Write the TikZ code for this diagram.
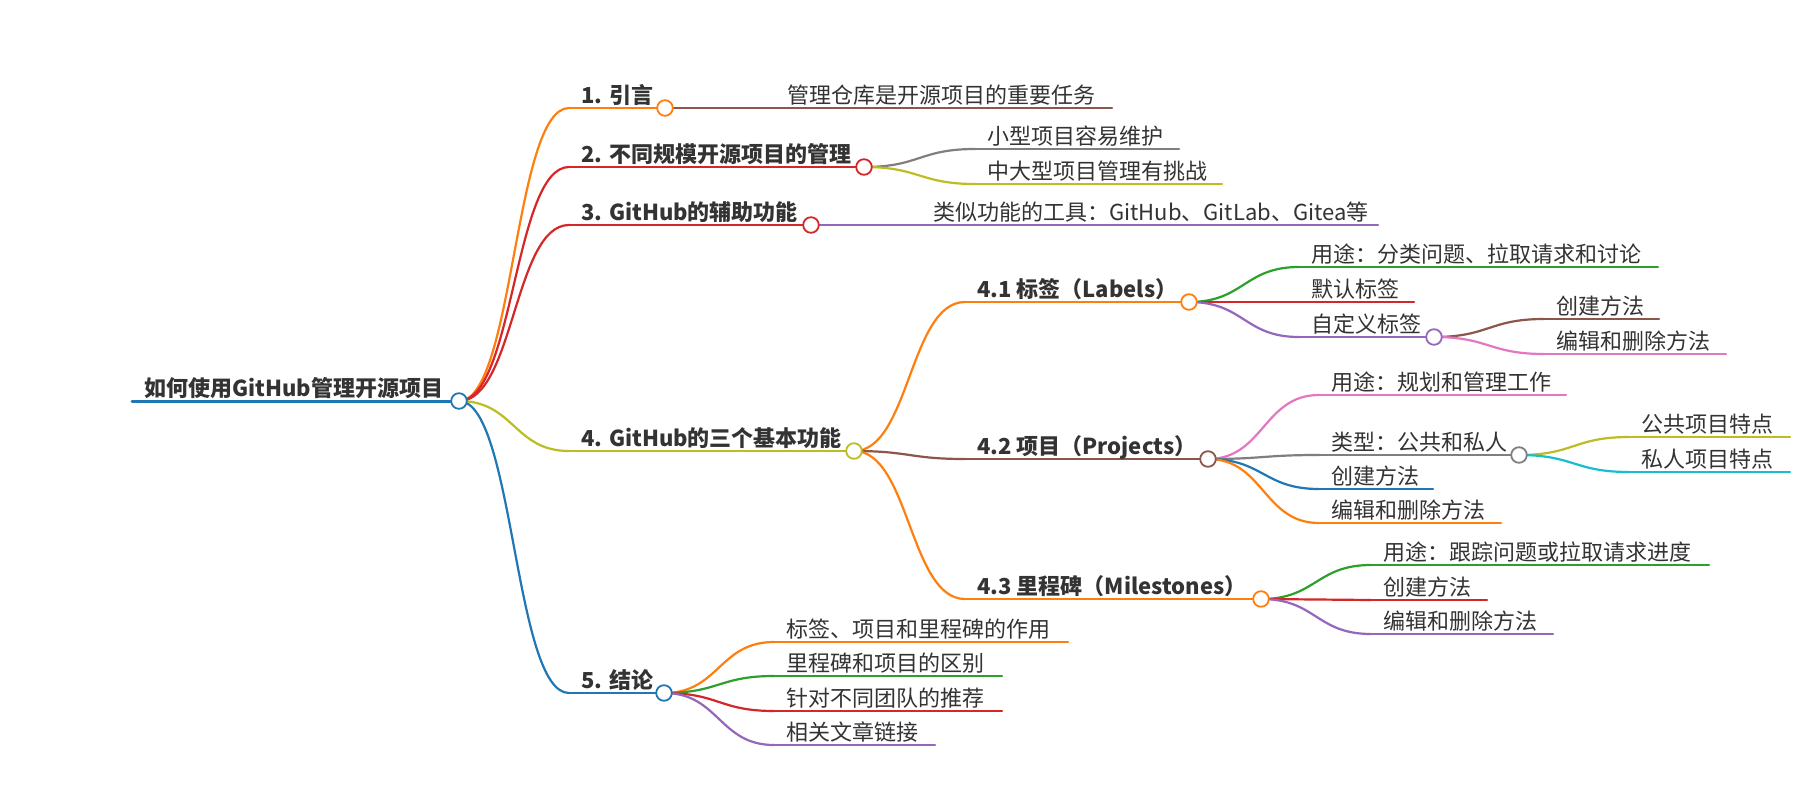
\documentclass[tikz,border=0pt]{standalone}
\usepackage{fontspec}
\setmainfont{Noto Sans CJK SC}
\usetikzlibrary{calc}
\definecolor{cblue}{HTML}{1F77B4}
\definecolor{corange}{HTML}{FF7F0E}
\definecolor{cgreen}{HTML}{2CA02C}
\definecolor{cred}{HTML}{D62728}
\definecolor{cpurple}{HTML}{9467BD}
\definecolor{cbrown}{HTML}{8C564B}
\definecolor{cpink}{HTML}{E377C2}
\definecolor{cgray}{HTML}{7F7F7F}
\definecolor{colive}{HTML}{BCBD22}
\definecolor{ccyan}{HTML}{17BECF}
\definecolor{txt}{HTML}{333333}
\tikzset{
  lbl/.style={anchor=base west, inner sep=0pt, text=txt, font=\fontsize{22}{26}\selectfont},
  blbl/.style={lbl, font=\fontsize{22}{26}\selectfont\bfseries},
  edge/.style={line width=2.2pt, line cap=round},
  dot/.style={circle, fill=white, line width=1.8pt, minimum size=15.6pt, inner sep=0pt},
}
% name, x, y, end x, colour, label style, text
\newcommand\mmitem[7]{%
  \coordinate (#1s) at (#2,#3);
  \coordinate (#1e) at (#4,#3);
  \draw[edge, draw=#5] (#1s) -- (#1e);
  \node[#6] (#1) at ({#2+12},{#3-5}) {#7};
}
% parent, child, colour
\newcommand\mmlink[3]{%
  \draw[edge, draw=#3] (#1e) .. controls ($(#1e)!0.5!(#2s|-#1e)$) and ($(#2s)!0.5!(#1e|-#2s)$) .. (#2s);
}
\begin{document}
\begin{tikzpicture}[x=1pt,y=-1pt]
\useasboundingbox[fill=white] (0,0) rectangle (1800,800);

% nodes
\coordinate (roots) at (132,401);
\coordinate (roote) at (459,401);
\draw[edge, line width=3pt, draw=cblue] (roots) -- (roote);
\node[blbl] (root) at (144,396) {如何使用GitHub管理开源项目};
\mmitem{na}{569}{108}{665}{corange}{blbl}{1. 引言}
\mmitem{nb}{569}{167}{864}{cred}{blbl}{2. 不同规模开源项目的管理}
\mmitem{nc}{569}{225}{811}{cred}{blbl}{3. GitHub的辅助功能}
\mmitem{nd}{569}{451}{854}{colive}{blbl}{4. GitHub的三个基本功能}
\mmitem{ne}{569}{693}{664}{cblue}{blbl}{5. 结论}
\mmitem{naa}{775}{108}{1112}{cbrown}{lbl}{管理仓库是开源项目的重要任务}
\mmitem{nba}{975}{149}{1179}{cgray}{lbl}{小型项目容易维护}
\mmitem{nbb}{975}{184}{1222}{colive}{lbl}{中大型项目管理有挑战}
\mmitem{nca}{921}{225}{1378}{cpurple}{lbl}{类似功能的工具：GitHub、GitLab、Gitea等}
\mmitem{nda}{965}{302}{1189}{corange}{blbl}{4.1 标签（Labels）}
\mmitem{ndb}{965}{459}{1208}{cbrown}{blbl}{4.2 项目（Projects）}
\mmitem{ndc}{965}{599}{1261}{corange}{blbl}{4.3 里程碑（Milestones）}
\mmitem{nea}{774}{642}{1068}{corange}{lbl}{标签、项目和里程碑的作用}
\mmitem{neb}{774}{676}{1002}{cgreen}{lbl}{里程碑和项目的区别}
\mmitem{nec}{774}{711}{1002}{cred}{lbl}{针对不同团队的推荐}
\mmitem{ned}{774}{745}{935}{cpurple}{lbl}{相关文章链接}
\mmitem{ndaa}{1299}{267}{1658}{cgreen}{lbl}{用途：分类问题、拉取请求和讨论}
\mmitem{ndab}{1299}{302}{1414}{cred}{lbl}{默认标签}
\mmitem{ndac}{1299}{337}{1434}{cpurple}{lbl}{自定义标签}
\mmitem{ndaca}{1544}{319}{1659}{cbrown}{lbl}{创建方法}
\mmitem{ndacb}{1544}{354}{1726}{cpink}{lbl}{编辑和删除方法}
\mmitem{ndba}{1319}{395}{1566}{cpink}{lbl}{用途：规划和管理工作}
\mmitem{ndbb}{1319}{455}{1519}{cgray}{lbl}{类型：公共和私人}
\mmitem{ndbba}{1629}{437}{1790}{colive}{lbl}{公共项目特点}
\mmitem{ndbbb}{1629}{472}{1790}{ccyan}{lbl}{私人项目特点}
\mmitem{ndbc}{1319}{489}{1433}{cblue}{lbl}{创建方法}
\mmitem{ndbd}{1319}{523}{1501}{corange}{lbl}{编辑和删除方法}
\mmitem{ndca}{1371}{565}{1709}{cgreen}{lbl}{用途：跟踪问题或拉取请求进度}
\mmitem{ndcb}{1371}{600}{1487}{cred}{lbl}{创建方法}
\mmitem{ndcc}{1371}{634}{1553}{cpurple}{lbl}{编辑和删除方法}

% links
\mmlink{root}{na}{corange}
\mmlink{root}{nb}{cred}
\mmlink{root}{nc}{cred}
\mmlink{root}{nd}{colive}
\mmlink{root}{ne}{cblue}
\mmlink{na}{naa}{cbrown}
\mmlink{nb}{nba}{cgray}
\mmlink{nb}{nbb}{colive}
\mmlink{nc}{nca}{cpurple}
\mmlink{nd}{nda}{corange}
\mmlink{nd}{ndb}{cbrown}
\mmlink{nd}{ndc}{corange}
\mmlink{ne}{nea}{corange}
\mmlink{ne}{neb}{cgreen}
\mmlink{ne}{nec}{cred}
\mmlink{ne}{ned}{cpurple}
\mmlink{nda}{ndaa}{cgreen}
\mmlink{nda}{ndab}{cred}
\mmlink{nda}{ndac}{cpurple}
\mmlink{ndac}{ndaca}{cbrown}
\mmlink{ndac}{ndacb}{cpink}
\mmlink{ndb}{ndba}{cpink}
\mmlink{ndb}{ndbb}{cgray}
\mmlink{ndb}{ndbc}{cblue}
\mmlink{ndb}{ndbd}{corange}
\mmlink{ndbb}{ndbba}{colive}
\mmlink{ndbb}{ndbbb}{ccyan}
\mmlink{ndc}{ndca}{cgreen}
\mmlink{ndc}{ndcb}{cred}
\mmlink{ndc}{ndcc}{cpurple}

% fold circles
\node[dot, draw=cblue] (rootc) at (roote) {};
\node[dot, draw=corange] (nac) at (nae) {};
\node[dot, draw=cred] (nbc) at (nbe) {};
\node[dot, draw=cred] (ncc) at (nce) {};
\node[dot, draw=colive] (ndc-c) at (nde) {};
\node[dot, draw=cblue] (nec-c) at (nee) {};
\node[dot, draw=corange] (ndac-c) at (ndae) {};
\node[dot, draw=cbrown] (ndbc-c) at (ndbe) {};
\node[dot, draw=corange] (ndcc-c) at (ndce) {};
\node[dot, draw=cpurple] (ndacc) at (ndace) {};
\node[dot, draw=cgray] (ndbbc) at (ndbbe) {};
\end{tikzpicture}
\end{document}
